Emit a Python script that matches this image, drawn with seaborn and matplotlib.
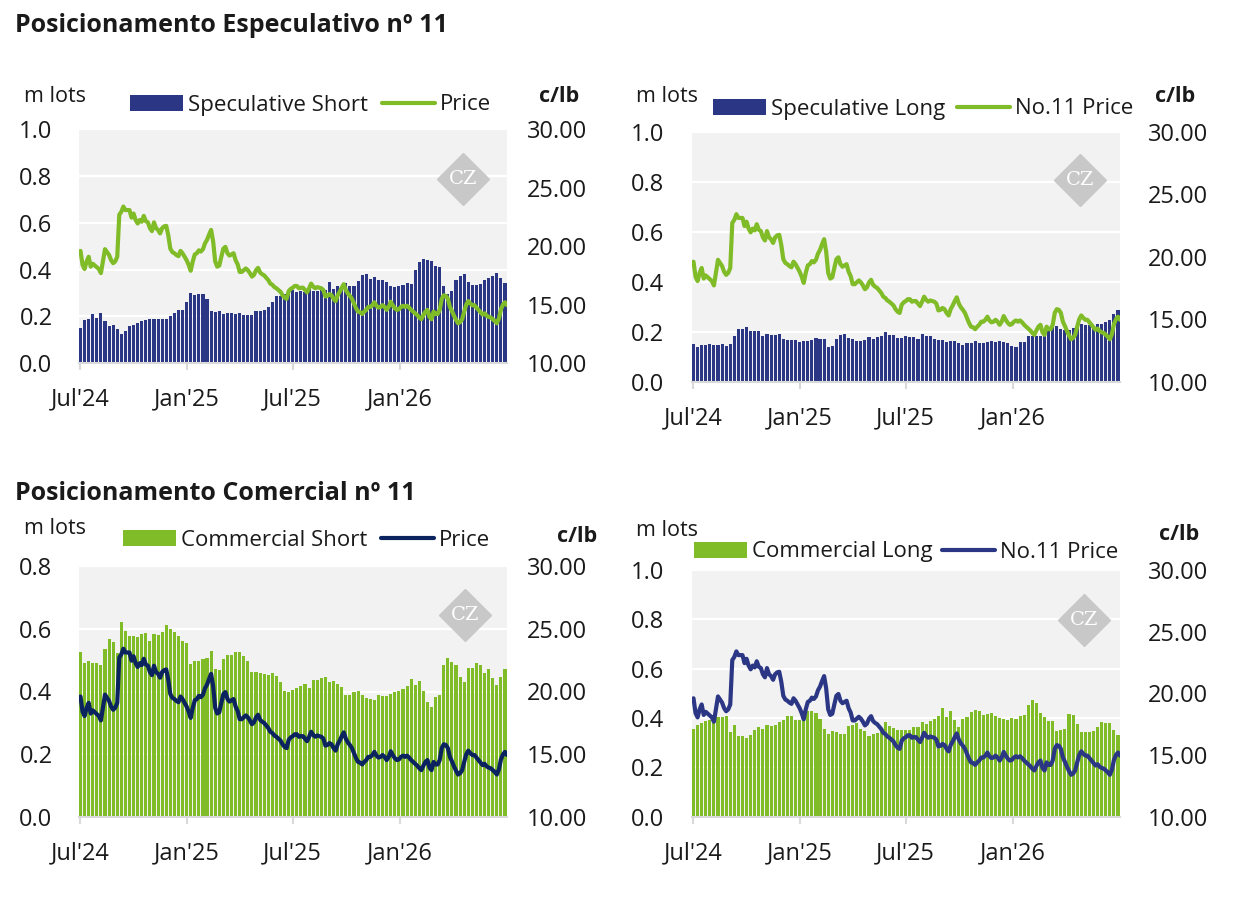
import pandas as pd
import numpy as np
import matplotlib.pyplot as plt
from matplotlib.patches import Patch
from matplotlib.lines import Line2D
from matplotlib.ticker import FormatStrFormatter
import seaborn as sns

W, H = 1244, 898

# weekly positions in million lots, first report 2 Jul 2024
spec_short = [0.150, 0.184, 0.189, 0.210, 0.193, 0.214, 0.180, 0.159, 0.163, 0.146,
              0.124, 0.137, 0.159, 0.163, 0.171, 0.180, 0.184, 0.189, 0.189, 0.189,
              0.189, 0.189, 0.200, 0.214, 0.227, 0.227, 0.261, 0.300, 0.291, 0.296,
              0.296, 0.274, 0.223, 0.219, 0.223, 0.210, 0.214, 0.214, 0.210, 0.214,
              0.206, 0.206, 0.206, 0.223, 0.223, 0.227, 0.240, 0.261, 0.287, 0.287,
              0.296, 0.304, 0.313, 0.304, 0.309, 0.304, 0.317, 0.309, 0.309, 0.317,
              0.313, 0.347, 0.317, 0.330, 0.317, 0.343, 0.330, 0.330, 0.351, 0.377,
              0.381, 0.360, 0.369, 0.356, 0.356, 0.347, 0.330, 0.326, 0.330, 0.334,
              0.343, 0.339, 0.399, 0.433, 0.446, 0.441, 0.437, 0.416, 0.411, 0.330,
              0.296, 0.309, 0.356, 0.373, 0.381, 0.347, 0.334, 0.334, 0.339, 0.356,
              0.364, 0.373, 0.386, 0.364, 0.343]
spec_long = [0.151, 0.140, 0.147, 0.147, 0.151, 0.147, 0.147, 0.151, 0.143, 0.151,
             0.183, 0.211, 0.211, 0.219, 0.203, 0.203, 0.203, 0.183, 0.191, 0.187,
             0.187, 0.191, 0.171, 0.167, 0.167, 0.167, 0.159, 0.163, 0.163, 0.167,
             0.175, 0.171, 0.171, 0.139, 0.143, 0.171, 0.187, 0.191, 0.175, 0.171,
             0.163, 0.163, 0.167, 0.179, 0.171, 0.179, 0.183, 0.199, 0.187, 0.187,
             0.175, 0.175, 0.183, 0.179, 0.179, 0.171, 0.191, 0.183, 0.183, 0.171,
             0.167, 0.167, 0.159, 0.163, 0.163, 0.155, 0.147, 0.155, 0.155, 0.163,
             0.155, 0.155, 0.159, 0.163, 0.159, 0.163, 0.159, 0.155, 0.143, 0.139,
             0.159, 0.159, 0.183, 0.183, 0.183, 0.183, 0.203, 0.203, 0.227, 0.223,
             0.211, 0.207, 0.207, 0.215, 0.227, 0.231, 0.227, 0.227, 0.223, 0.231,
             0.231, 0.239, 0.247, 0.270, 0.288]
comm_short = [0.526, 0.492, 0.497, 0.490, 0.492, 0.484, 0.535, 0.567, 0.557, 0.524,
              0.621, 0.592, 0.577, 0.577, 0.573, 0.583, 0.586, 0.561, 0.583, 0.580,
              0.589, 0.612, 0.599, 0.589, 0.577, 0.561, 0.554, 0.488, 0.497, 0.497,
              0.503, 0.507, 0.529, 0.472, 0.468, 0.503, 0.516, 0.516, 0.526, 0.526,
              0.513, 0.497, 0.462, 0.462, 0.459, 0.456, 0.453, 0.459, 0.449, 0.430,
              0.402, 0.399, 0.405, 0.411, 0.418, 0.424, 0.411, 0.437, 0.437, 0.443,
              0.446, 0.430, 0.433, 0.424, 0.414, 0.389, 0.389, 0.399, 0.402, 0.389,
              0.379, 0.376, 0.373, 0.389, 0.386, 0.386, 0.392, 0.399, 0.402, 0.408,
              0.418, 0.440, 0.421, 0.433, 0.402, 0.367, 0.351, 0.383, 0.389, 0.484,
              0.507, 0.494, 0.484, 0.446, 0.430, 0.475, 0.475, 0.491, 0.484, 0.459,
              0.472, 0.443, 0.421, 0.446, 0.472]
comm_long = [0.355, 0.372, 0.380, 0.388, 0.390, 0.380, 0.404, 0.404, 0.408, 0.343,
             0.372, 0.327, 0.327, 0.319, 0.331, 0.351, 0.364, 0.355, 0.372, 0.368,
             0.372, 0.384, 0.392, 0.408, 0.408, 0.392, 0.392, 0.416, 0.428, 0.428,
             0.420, 0.396, 0.355, 0.335, 0.347, 0.343, 0.335, 0.335, 0.368, 0.372,
             0.380, 0.355, 0.347, 0.327, 0.335, 0.339, 0.359, 0.384, 0.368, 0.359,
             0.351, 0.351, 0.351, 0.351, 0.364, 0.364, 0.384, 0.376, 0.388, 0.396,
             0.408, 0.441, 0.404, 0.428, 0.392, 0.364, 0.396, 0.404, 0.424, 0.432,
             0.428, 0.412, 0.416, 0.420, 0.408, 0.400, 0.396, 0.392, 0.400, 0.396,
             0.408, 0.412, 0.453, 0.473, 0.462, 0.420, 0.404, 0.388, 0.388, 0.347,
             0.351, 0.355, 0.416, 0.411, 0.376, 0.343, 0.343, 0.343, 0.347, 0.364,
             0.384, 0.380, 0.380, 0.351, 0.331]

# No.11 price in c/lb, two readings a week
price = [19.6, 18.4, 18.05, 18.7, 19.1, 18.25, 18.5, 18.35, 18.2, 18.05,
         17.7, 18.7, 19.75, 19.5, 19.25, 18.8, 18.55, 18.7, 19.1, 22.7,
         22.95, 23.4, 23.1, 23.1, 23.1, 22.45, 22.8, 22.25, 21.95, 22.25,
         22.1, 22.6, 22.15, 22.05, 21.55, 21.3, 22.05, 21.55, 21.4, 21.1,
         21.55, 21.7, 21.75, 20.95, 19.8, 19.5, 19.4, 19.25, 19.15, 19.6,
         19.4, 19.1, 18.8, 18.4, 17.9, 18.7, 19.3, 19.4, 19.65, 19.55,
         19.75, 20.25, 20.55, 21.0, 21.4, 20.4, 18.7, 18.25, 18.35, 19.1,
         19.8, 19.95, 19.4, 19.2, 19.3, 19.4, 18.8, 18.45, 17.8, 17.8,
         17.95, 18.1, 17.95, 17.7,
         17.4, 17.55, 17.95, 18.15, 17.75, 17.6, 17.5, 17.3, 17.1, 16.8,
         16.7, 16.5, 16.4, 16.25, 16.1, 15.8, 15.6, 15.5, 16.15, 16.35,
         16.45, 16.6, 16.6, 16.4, 16.45, 16.45, 16.25, 16.05, 16.4, 16.8,
         16.55, 16.4, 16.5, 16.45, 16.4, 16.25, 15.7, 15.75, 15.9, 15.8,
         15.5, 15.3, 15.8, 16.1, 16.45, 16.75, 16.25, 15.95, 15.75, 15.5,
         15.1, 14.7, 14.4, 14.35, 14.2, 14.4, 14.55, 14.8, 14.8, 14.95,
         15.2, 14.9, 14.75, 14.8, 14.95, 14.8, 14.55, 14.8, 15.25, 14.95,
         14.7, 14.55, 14.6, 14.8, 14.9, 14.8, 14.9, 14.75, 14.55, 14.4,
         14.25, 14.1, 13.9, 13.75, 14.1, 14.4, 14.55, 13.95,
         13.75, 14.4, 14.2, 14.2, 14.55, 15.5, 15.8, 15.75, 15.5, 14.8,
         14.45, 14.05, 13.7, 13.4, 13.5, 13.75, 14.4, 15.0, 15.3, 15.1,
         14.95, 14.95, 14.75, 14.55, 14.35, 14.15, 14.25, 14.05, 13.95, 13.9,
         13.75, 13.6, 13.4, 13.8, 14.6, 15.0, 15.2, 14.95]

tick_dates = ['2024-07-01', '2025-01-01', '2025-07-01', '2026-01-01']
tick_labels = ["Jul'24", "Jan'25", "Jul'25", "Jan'26"]

week_dates = pd.date_range('2024-07-02', periods=len(spec_short), freq='7D')
price_dates = pd.date_range('2024-07-02', periods=len(price), freq='84h')
xlim = (pd.Timestamp('2024-06-29 10:00'), pd.Timestamp('2026-07-03 10:00'))

NAVY = '#2b3784'
GREEN = '#80bb28'
DARK = '#0b235f'
TXT = '#1a1a1a'

sns.set_theme(style='white')
plt.rcParams['font.family'] = ['Open Sans', 'DejaVu Sans']

fig = plt.figure(figsize=(W / 100, H / 100), dpi=100)


def fx(x):
    return x / W


def fy(y):
    return 1 - y / H


def panel(x0, x1, ytop, ybot, bars, bar_color, bar_label, line_color, line_label,
          ymax, wm, leg, mlots, clb, lpad, rpad, colsp):
    ax = fig.add_axes([fx(x0), fy(ybot), (x1 - x0) / W, (ybot - ytop) / H])
    ax.set_facecolor('#f2f2f2')
    ax.bar(week_dates, bars, width=5.3, color=bar_color, linewidth=0, zorder=2)
    ax.set_xlim(xlim)
    ax.set_ylim(0, ymax)
    ax.set_yticks(np.arange(0, ymax + 0.01, 0.2))
    ax.yaxis.set_major_formatter(FormatStrFormatter('%.1f'))
    ax.set_xticks(pd.to_datetime(tick_dates))
    ax.set_xticklabels(tick_labels)
    ax.grid(axis='y', color='white', lw=1.6)
    ax.grid(axis='x', visible=False)
    ax.set_axisbelow(True)
    for s in ['left', 'right', 'top']:
        ax.spines[s].set_visible(False)
    ax.spines['bottom'].set_color('#d9d9d9')
    ax.spines['bottom'].set_linewidth(1.5)
    ax.tick_params(axis='y', length=0, pad=lpad, labelsize=17, labelcolor=TXT)
    ax.tick_params(axis='x', bottom=True, length=5, width=1.5, color='#d9d9d9',
                   pad=12.5, labelsize=17, labelcolor=TXT)

    ax2 = ax.twinx()
    sns.lineplot(x=price_dates, y=price, ax=ax2, color=line_color, lw=3.0, zorder=3)
    ax2.set_ylim(10, 30)
    ax2.set_yticks([10, 15, 20, 25, 30])
    ax2.yaxis.set_major_formatter(FormatStrFormatter('%.2f'))
    ax2.set_xlim(xlim)
    ax2.set_xlabel('')
    ax2.set_ylabel('')
    for s in ax2.spines.values():
        s.set_visible(False)
    ax2.tick_params(axis='y', length=0, pad=rpad, labelsize=17, labelcolor=TXT)

    # CZ watermark
    ax2.plot([wm[0]], [wm[1]], marker='D', ms=26, color='#c8c8c8',
             transform=ax2.transAxes, zorder=5)
    ax2.text(wm[0], wm[1], 'CZ', transform=ax2.transAxes, family='DejaVu Serif',
             fontsize=14, color='white', ha='center', va='center', zorder=6)

    handles = [Patch(facecolor=bar_color, edgecolor='none'),
               Line2D([0], [0], color=line_color, lw=3.0)]
    fig.legend(handles, [bar_label, line_label], loc='center left',
               bbox_to_anchor=(fx(leg[0]), fy(leg[1])), ncol=2, frameon=False,
               borderpad=0, borderaxespad=0, handlelength=2.4, handletextpad=0.22,
               columnspacing=colsp, fontsize=16, labelcolor=TXT)
    fig.text(fx(mlots[0]), fy(mlots[1]), 'm lots', fontsize=15.5, color=TXT, va='center')
    fig.text(fx(clb[0]), fy(clb[1]), 'c/lb', fontsize=15.5, fontweight='bold',
             color=TXT, va='center')
    return ax


fig.text(fx(15), fy(25), 'Posicionamento Especulativo nº 11', fontsize=18,
         fontweight='bold', color=TXT, va='center')
fig.text(fx(15), fy(494), 'Posicionamento Comercial nº 11', fontsize=18,
         fontweight='bold', color=TXT, va='center')

panel(79, 507, 129.5, 363, spec_short, NAVY, 'Speculative Short', GREEN, 'Price',
      1.0, (0.897, 0.786), (130, 105), (24, 97), (539, 97), 19, 14, 0.6)
panel(692, 1120, 131.7, 381.7, spec_long, NAVY, 'Speculative Long', GREEN, 'No.11 Price',
      1.0, (0.906, 0.807), (713, 109), (636, 96), (1155, 97), 20, 20, 0.5)
panel(79, 507, 565.7, 817.3, comm_short, GREEN, 'Commercial Short', DARK, 'Price',
      0.8, (0.902, 0.804), (123, 540), (24, 529), (557, 536), 19, 14, 0.6)
panel(692, 1120, 570, 816.7, comm_long, GREEN, 'Commercial Long', NAVY, 'No.11 Price',
      1.0, (0.915, 0.797), (694, 552), (636, 531), (1159, 535), 20, 20, 0.4)

fig.savefig('out.png', dpi=100)
